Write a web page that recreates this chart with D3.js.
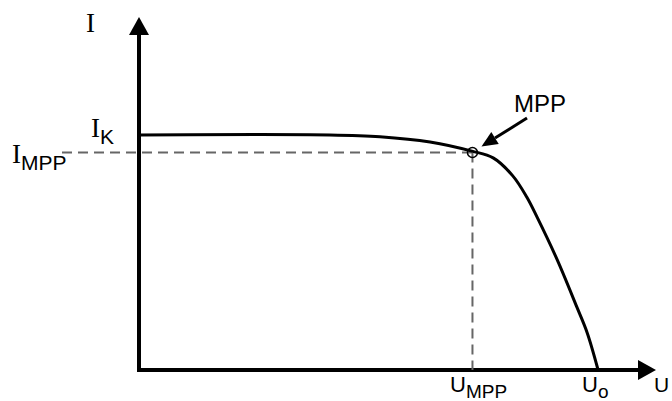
<!DOCTYPE html>
<html><head><meta charset="utf-8">
<script src="https://cdn.jsdelivr.net/npm/d3@7"></script>
<style>body{margin:0;background:#fff}svg{display:block}</style>
</head><body>
<script>
// I-U characteristic (normalised units, 0..100)
const curveU = [0, 36.9, 46.6, 56.3, 64.4, 68.5, 72.3, 75.0, 77.0, 80.9, 84.7, 86.7, 88.8];
const curveI = [66.6, 66.6, 66.1, 64.6, 62.0, 60.1, 55.0, 49.0, 43.3, 31.2, 17.8, 10.5, 0];
const Ik = 66.6, Impp = 61.6, Umpp = 64.5, Uo = 88.8;
const axisMax = 100;

const W = 672, H = 401;
const svg = d3.select("body").append("svg").attr("width", W).attr("height", H);
const x = d3.scaleLinear().domain([0, axisMax]).range([139, 656]);
const y = d3.scaleLinear().domain([0, axisMax]).range([370, 17]);

// axes
svg.append("line").attr("x1", x(0)).attr("x2", x(axisMax) - 16).attr("y1", y(0)).attr("y2", y(0))
  .attr("stroke", "#000").attr("stroke-width", 4);
svg.append("line").attr("x1", x(0)).attr("x2", x(0)).attr("y1", y(0) + 2).attr("y2", y(axisMax) + 16)
  .attr("stroke", "#000").attr("stroke-width", 4);
svg.append("path").attr("d", `M${x(axisMax)},${y(0)} L${x(axisMax)-18},${y(0)-10} L${x(axisMax)-18},${y(0)+10}Z`).attr("fill", "#000");
svg.append("path").attr("d", `M${x(0)},${y(axisMax)} L${x(0)-10},${y(axisMax)+18} L${x(0)+10},${y(axisMax)+18}Z`).attr("fill", "#000");

// dashed guides
svg.append("line").attr("x1", 62).attr("x2", x(Umpp)).attr("y1", y(Impp)).attr("y2", y(Impp))
  .attr("stroke", "#666").attr("stroke-width", 2).attr("stroke-dasharray", "10,6");
svg.append("line").attr("x1", x(Umpp)).attr("x2", x(Umpp)).attr("y1", y(Impp)).attr("y2", y(0))
  .attr("stroke", "#666").attr("stroke-width", 2).attr("stroke-dasharray", "10,6");

// curve
const pts = curveU.map((u, i) => [u, curveI[i]]);
svg.append("path").datum(pts)
  .attr("d", d3.line().x(d => x(d[0])).y(d => y(d[1])).curve(d3.curveCatmullRom.alpha(0.5)))
  .attr("fill", "none").attr("stroke", "#000").attr("stroke-width", 3);

// MPP marker
svg.append("circle").attr("cx", x(Umpp)).attr("cy", y(Impp)).attr("r", 5)
  .attr("fill", "none").attr("stroke", "#000").attr("stroke-width", 1.5);

// MPP arrow
const ax0 = 527, ay0 = 118, ax1 = x(Umpp) + 9, ay1 = y(Impp) - 6;
const ang = Math.atan2(ay1 - ay0, ax1 - ax0);
const hl = 16, hw = 7;
const bx = ax1 - hl * Math.cos(ang), by = ay1 - hl * Math.sin(ang);
svg.append("line").attr("x1", ax0).attr("y1", ay0).attr("x2", bx).attr("y2", by)
  .attr("stroke", "#000").attr("stroke-width", 3);
svg.append("path").attr("d", `M${ax1},${ay1} L${bx + hw*Math.sin(ang)},${by - hw*Math.cos(ang)} L${bx - hw*Math.sin(ang)},${by + hw*Math.cos(ang)}Z`)
  .attr("fill", "#000");

// labels
const sans = "Liberation Sans, Arial, sans-serif", serif = "Liberation Serif, DejaVu Serif, serif";
svg.append("text").attr("x", 86).attr("y", 32).attr("font-family", serif).attr("font-size", 27).text("I");
svg.append("text").attr("x", 514).attr("y", 112).attr("font-family", sans).attr("font-size", 24).text("MPP");

const ik = svg.append("text").attr("x", 91).attr("y", 137).attr("font-family", serif).attr("font-size", 27);
ik.append("tspan").text("I");
ik.append("tspan").attr("font-family", sans).attr("font-size", 21).attr("dy", 7).text("K");

const im = svg.append("text").attr("x", 12).attr("y", 163).attr("font-family", serif).attr("font-size", 27);
im.append("tspan").text("I");
im.append("tspan").attr("font-family", sans).attr("font-size", 21).attr("dy", 7).text("MPP");

const um = svg.append("text").attr("x", 450).attr("y", 392).attr("font-family", sans).attr("font-size", 22);
um.append("tspan").text("U");
um.append("tspan").attr("font-size", 19).attr("dy", 6).text("MPP");

const uo = svg.append("text").attr("x", 582).attr("y", 392).attr("font-family", sans).attr("font-size", 22);
uo.append("tspan").text("U");
uo.append("tspan").attr("font-size", 19).attr("dy", 6).text("o");

svg.append("text").attr("x", 654).attr("y", 392).attr("font-family", sans).attr("font-size", 21).text("U");
</script>
</body></html>
